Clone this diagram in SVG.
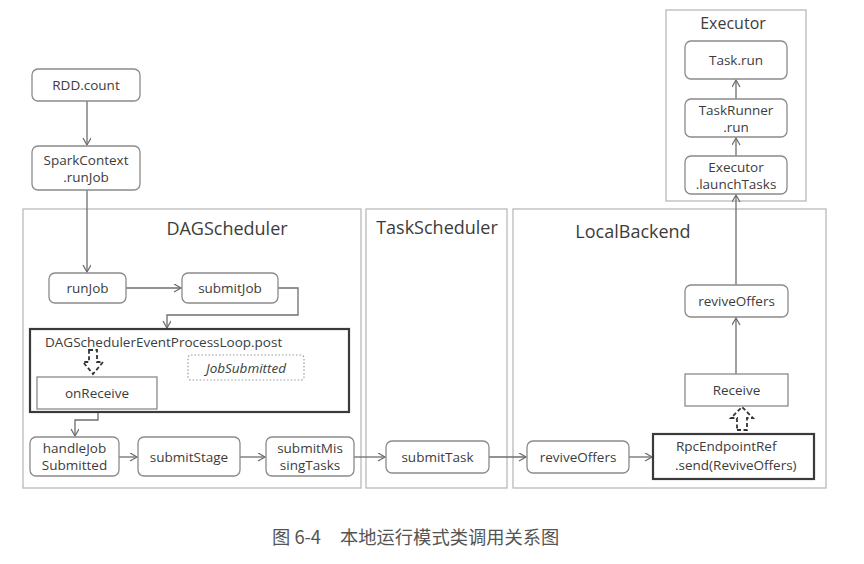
<svg xmlns="http://www.w3.org/2000/svg" width="864" height="564" viewBox="0 0 864 564">
<defs>
<style>
.bg{fill:#ffffff}
.cont{fill:none;stroke:#b4b4b4;stroke-width:1.2}
.node{fill:#fff;stroke:#8a8a8a;stroke-width:1.3}
.thick{fill:#fff;stroke:#3a3a3a;stroke-width:2.2}
.dot{fill:none;stroke:#9a9a9a;stroke-width:1.2;stroke-dasharray:1.5 2}
.blk{fill:none;stroke:#333;stroke-width:1.8;stroke-dasharray:4 2.5}
.t{font-family:"Open Sans","Noto Sans","DejaVu Sans",sans-serif;font-size:13.5px;fill:#3c3c3c;text-anchor:middle}
.tl{font-family:"Open Sans","Noto Sans","DejaVu Sans",sans-serif;font-size:13.5px;fill:#3c3c3c}
.title{font-family:"Open Sans","Noto Sans","DejaVu Sans",sans-serif;font-size:18px;fill:#3c3c3c;text-anchor:middle}
.cap{font-family:"Noto Sans CJK SC","Noto Sans",sans-serif;font-size:18.3px;fill:#555}
.ln{fill:none;stroke:#6e6e6e;stroke-width:1.3}
</style>
<marker id="ah" markerWidth="10" markerHeight="10" refX="8" refY="4" orient="auto" markerUnits="userSpaceOnUse">
<path d="M1,0 L8,4 L1,8" fill="none" stroke="#6e6e6e" stroke-width="1.3"/>
</marker>
</defs>
<rect class="bg" x="0" y="0" width="864" height="564"/>

<g id="containers">
<rect id="dagscheduler" class="cont" x="23" y="209" width="338" height="279"/>
<text class="title" x="227" y="235">DAGScheduler</text>
<rect id="taskscheduler" class="cont" x="366" y="209" width="141" height="279"/>
<text class="title" x="437" y="234">TaskScheduler</text>
<rect id="localbackend" class="cont" x="513" y="209" width="313" height="279"/>
<text class="title" x="633" y="238">LocalBackend</text>
<rect id="executor" class="cont" x="666" y="10" width="140" height="191"/>
<text class="title" x="733" y="29" style="font-size:16px">Executor</text>
</g>

<g id="connectors">
<line class="ln" x1="87" y1="101" x2="87" y2="145" marker-end="url(#ah)"/>
<line class="ln" x1="87" y1="190" x2="87" y2="272" marker-end="url(#ah)"/>
<line class="ln" x1="126" y1="288" x2="181" y2="288" marker-end="url(#ah)"/>
<polyline class="ln" points="278,288 298,288 298,315 167,315 167,328" marker-end="url(#ah)"/>
<polyline class="ln" points="98,409 98,420 75,420 75,436" marker-end="url(#ah)"/>
<line class="ln" x1="119" y1="457" x2="137" y2="457" marker-end="url(#ah)"/>
<line class="ln" x1="240" y1="457" x2="265" y2="457" marker-end="url(#ah)"/>
<line class="ln" x1="354" y1="457" x2="385" y2="457" marker-end="url(#ah)"/>
<line class="ln" x1="489" y1="457" x2="526" y2="457" marker-end="url(#ah)"/>
<line class="ln" x1="629" y1="457" x2="652" y2="457" marker-end="url(#ah)"/>
<line class="ln" x1="736" y1="374" x2="736" y2="318" marker-end="url(#ah)"/>
<line class="ln" x1="736" y1="285" x2="736" y2="195" marker-end="url(#ah)"/>
<line class="ln" x1="736" y1="156" x2="736" y2="138" marker-end="url(#ah)"/>
<line class="ln" x1="736" y1="99" x2="736" y2="80" marker-end="url(#ah)"/>
</g>

<g id="rdd-count"><rect class="node" x="32" y="69" width="108" height="32" rx="6"/><text class="t" x="86" y="90">RDD.count</text></g>
<g id="sparkcontext-runjob"><rect class="node" x="32" y="146" width="108" height="44" rx="6"/><text class="t" x="86" y="165">SparkContext</text><text class="t" x="86" y="181.5">.runJob</text></g>
<g id="runjob"><rect class="node" x="49" y="273" width="77" height="30" rx="6"/><text class="t" x="87.5" y="293">runJob</text></g>
<g id="submitjob"><rect class="node" x="182" y="273" width="96" height="30" rx="6"/><text class="t" x="230" y="293">submitJob</text></g>
<g id="eventloop"><rect class="thick" x="30" y="329" width="319" height="83"/><text class="tl" x="45" y="347">DAGSchedulerEventProcessLoop.post</text></g>
<g id="jobsubmitted"><rect class="dot" x="188" y="355" width="116" height="25" rx="3"/><text class="t" x="246" y="372.5" style="font-style:italic">JobSubmitted</text></g>
<g id="onreceive"><rect class="node" x="37" y="377" width="120" height="32"/><text class="t" x="97" y="398">onReceive</text></g>
<g id="handlejobsubmitted"><rect class="node" x="30" y="437" width="89" height="39" rx="6"/><text class="t" x="74.5" y="453">handleJob</text><text class="t" x="74.5" y="469.5">Submitted</text></g>
<g id="submitstage"><rect class="node" x="138" y="437" width="102" height="39" rx="6"/><text class="t" x="189" y="461.5">submitStage</text></g>
<g id="submitmissingtasks"><rect class="node" x="266" y="437" width="88" height="39" rx="6"/><text class="t" x="310" y="453">submitMis</text><text class="t" x="310" y="469.5">singTasks</text></g>
<g id="submittask"><rect class="node" x="386" y="441" width="103" height="32" rx="6"/><text class="t" x="437.5" y="462">submitTask</text></g>
<g id="reviveoffers-1"><rect class="node" x="527" y="441" width="102" height="32" rx="6"/><text class="t" x="578" y="462">reviveOffers</text></g>
<g id="rpcendpointref"><rect class="thick" x="653" y="434" width="161" height="45"/><text class="tl" x="676" y="450.5">RpcEndpointRef</text><text class="tl" x="675" y="469.5">.send(ReviveOffers)</text></g>
<g id="receive"><rect class="node" x="685" y="374" width="103" height="32"/><text class="t" x="736.5" y="395">Receive</text></g>
<g id="reviveoffers-2"><rect class="node" x="685" y="285" width="103" height="32" rx="6"/><text class="t" x="736.5" y="306">reviveOffers</text></g>
<g id="launchtasks"><rect class="node" x="685" y="156" width="102" height="38" rx="6"/><text class="t" x="736" y="172">Executor</text><text class="t" x="736" y="188.5">.launchTasks</text></g>
<g id="taskrunner-run"><rect class="node" x="685" y="99" width="102" height="38" rx="6"/><text class="t" x="736" y="115">TaskRunner</text><text class="t" x="736" y="131.5">.run</text></g>
<g id="task-run"><rect class="node" x="685" y="41" width="102" height="38" rx="6"/><text class="t" x="736" y="65">Task.run</text></g>

<g id="dashed-arrows">
<path class="blk" d="M89,350 L97,350 L97,362 L103,362 L93,374 L83,362 L89,362 Z"/>
<path class="blk" d="M737,430 L747,430 L747,418 L753,418 L742,407 L731,418 L737,418 Z"/>
</g>

<text class="cap" x="272" y="544">图 6-4</text>
<text class="cap" x="340" y="544">本地运行模式类调用关系图</text>
</svg>
